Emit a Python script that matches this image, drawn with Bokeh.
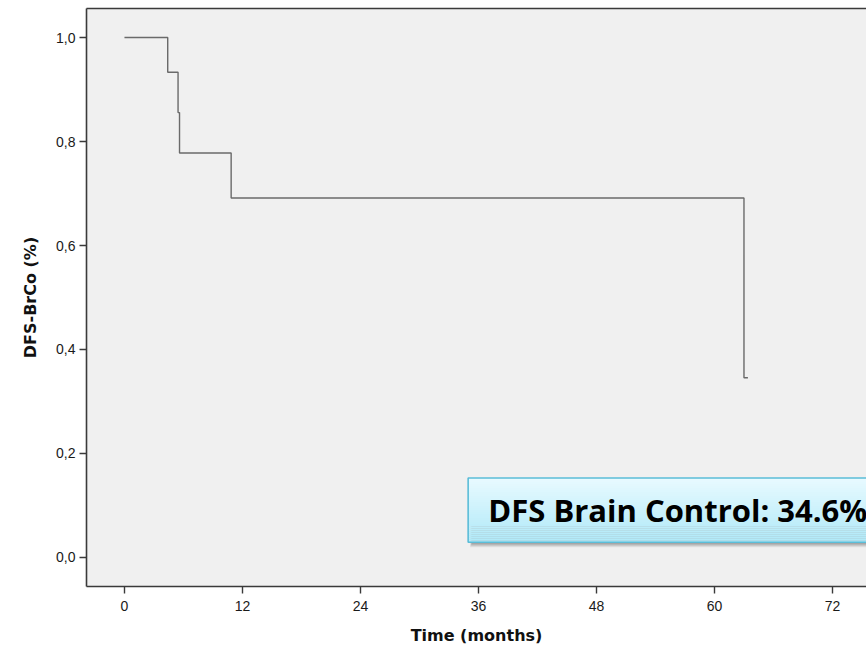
from bokeh.plotting import figure
from bokeh.models import Range1d, FixedTicker, Label, LinearAxis
from bokeh.embed import file_html
from bokeh.resources import INLINE

# Kaplan-Meier estimate of disease-free survival (brain control)
time_months = [0.0, 4.4, 5.45, 5.6, 10.85, 63.0, 63.4]
dfs_prob = [1.0, 0.9333, 0.8556, 0.7778, 0.6914, 0.3457, 0.3457]

x_ticks = [0, 12, 24, 36, 48, 60, 72]
y_ticks = [0.0, 0.2, 0.4, 0.6, 0.8, 1.0]
y_tick_labels = ["0,0", "0,2", "0,4", "0,6", "0,8", "1,0"]

annotation_text = "DFS Brain Control: 34.6%"

X0, X1 = -3.86, 75.46
Y0, Y1 = -0.0558, 1.0558

p = figure(width=866, height=653, output_backend="svg", toolbar_location=None,
           x_range=Range1d(X0, X1), y_range=Range1d(Y0, Y1),
           min_border_left=86, min_border_top=8, min_border_bottom=67,
           min_border_right=0)
p.background_fill_color = "#f0f0f0"
p.border_fill_color = "white"
p.outline_line_color = None
p.grid.visible = False

AX = "#3a3a3a"
for ax in (p.xaxis[0], p.yaxis[0]):
    ax.axis_line_color = AX
    ax.axis_line_width = 1.6
    ax.major_tick_line_color = AX
    ax.major_tick_line_width = 1.4
    ax.major_tick_out = 7
    ax.major_tick_in = 0
    ax.minor_tick_line_color = None
    ax.major_label_text_font = "Liberation Sans"
    ax.major_label_text_font_size = "14px"
    ax.major_label_text_color = "#1a1a1a"
    ax.axis_label_text_font = "DejaVu Sans"
    ax.axis_label_text_font_style = "bold"
    ax.axis_label_text_font_size = "16px"
    ax.axis_label_text_color = "#111111"

p.xaxis.ticker = FixedTicker(ticks=x_ticks)
p.xaxis.major_label_overrides = {t: str(t) for t in x_ticks}
p.xaxis.axis_label = "Time (months)"
p.xaxis.major_label_standoff = 7
p.xaxis.axis_label_standoff = 12

p.yaxis.ticker = FixedTicker(ticks=y_ticks)
p.yaxis.major_label_overrides = {t: lab for t, lab in zip(y_ticks, y_tick_labels)}
p.yaxis.axis_label = "DFS-BrCo (%)"
p.yaxis.major_label_standoff = 4
p.yaxis.axis_label_standoff = 13

# top border of the plot area
top = LinearAxis(ticker=FixedTicker(ticks=[]), axis_line_color=AX, axis_line_width=1.6,
                 major_tick_line_color=None, minor_tick_line_color=None,
                 major_label_text_font_size="0px")
p.add_layout(top, "above")

# survival curve
p.step(time_months, dfs_prob, mode="after", line_color="#6a6a6a", line_width=1.4)

# callout box: soft shadow, vertical cyan gradient, border
px_x = (X1 - X0) / (866 - 86)
px_y = (Y1 - Y0) / (586 - 8)
bx0, bx1 = 34.95, 90.0
by0, by1 = 0.0294, 0.153
for k, a in enumerate([0.10, 0.12, 0.16, 0.20]):
    off = 5 - k
    p.quad(left=bx0 + (2 + k * 0.5) * px_x, right=bx1,
           top=by1 - (2 + k * 0.5) * px_y, bottom=by0 - off * px_y,
           fill_color="#555555", fill_alpha=a, line_color=None)

n = 32
c_top = (232, 250, 255)
c_bot = (176, 233, 248)
h = (by1 - by0) / n
for i in range(n):
    f = i / (n - 1)
    col = tuple(int(round(c_top[j] + (c_bot[j] - c_top[j]) * f)) for j in range(3))
    p.quad(left=bx0, right=bx1, top=by1 - i * h, bottom=by1 - (i + 1) * h - h * 0.05,
           fill_color="#%02x%02x%02x" % col, line_color=None)
p.quad(left=bx0, right=bx1, top=by1, bottom=by0, fill_color=None,
       line_color="#5bbdd8", line_width=1.6)

p.add_layout(Label(x=37.0, y=(by0 + by1) / 2, text=annotation_text,
                   text_font="Open Sans", text_font_style="bold", text_font_size="31px",
                   text_color="black", text_baseline="middle", text_align="left"))

open("out.html", "w").write(file_html(p, INLINE))
